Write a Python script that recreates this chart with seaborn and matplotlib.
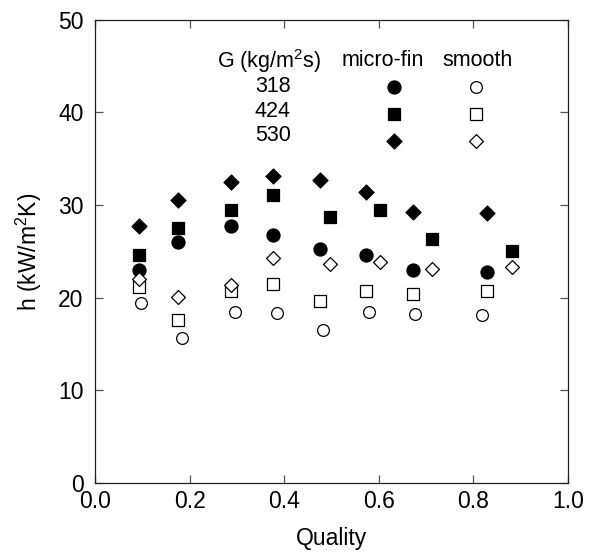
import matplotlib
matplotlib.use("Agg")
import matplotlib.pyplot as plt
import seaborn as sns
import pandas as pd

# ---- data ----
q_mf_318 = [0.092, 0.176, 0.288, 0.377, 0.476, 0.573, 0.672, 0.830]
h_mf_318 = [23.0, 26.0, 27.8, 26.8, 25.3, 24.6, 23.0, 22.8]
q_mf_424 = [0.092, 0.176, 0.288, 0.377, 0.496, 0.603, 0.713, 0.881]
h_mf_424 = [24.6, 27.5, 29.5, 31.1, 28.7, 29.5, 26.3, 25.1]
q_mf_530 = [0.092, 0.176, 0.288, 0.377, 0.476, 0.573, 0.672, 0.830]
h_mf_530 = [27.7, 30.5, 32.5, 33.1, 32.7, 31.4, 29.3, 29.2]

q_sm_318 = [0.097, 0.183, 0.295, 0.384, 0.483, 0.580, 0.677, 0.819]
h_sm_318 = [19.4, 15.7, 18.5, 18.4, 16.5, 18.5, 18.2, 18.1]
q_sm_424 = [0.092, 0.176, 0.288, 0.377, 0.476, 0.573, 0.672, 0.830]
h_sm_424 = [21.2, 17.6, 20.7, 21.5, 19.6, 20.7, 20.4, 20.7]
q_sm_530 = [0.092, 0.176, 0.288, 0.377, 0.496, 0.603, 0.713, 0.881]
h_sm_530 = [22.0, 20.1, 21.4, 24.3, 23.6, 23.9, 23.1, 23.3]

mass_flux = ["318", "424", "530"]
tubes = ["micro-fin", "smooth"]
x_ticks = [0.0, 0.2, 0.4, 0.6, 0.8, 1.0]
y_ticks = [0, 10, 20, 30, 40, 50]

series = [
    ("micro-fin", "318", q_mf_318, h_mf_318),
    ("micro-fin", "424", q_mf_424, h_mf_424),
    ("micro-fin", "530", q_mf_530, h_mf_530),
    ("smooth", "318", q_sm_318, h_sm_318),
    ("smooth", "424", q_sm_424, h_sm_424),
    ("smooth", "530", q_sm_530, h_sm_530),
]
rows = []
for tube, g, qs, hs in series:
    for q, h in zip(qs, hs):
        rows.append({"tube": tube, "G": g, "Quality": q, "h": h})
df = pd.DataFrame(rows)

# ---- style ----
sns.set_theme(style="ticks")
plt.rcParams["font.family"] = ["Liberation Sans", "DejaVu Sans"]
plt.rcParams["mathtext.fontset"] = "custom"
plt.rcParams["mathtext.rm"] = "Liberation Sans"
plt.rcParams["mathtext.it"] = "Liberation Sans"
plt.rcParams["text.color"] = "black"
plt.rcParams["axes.labelcolor"] = "black"
plt.rcParams["xtick.color"] = "black"
plt.rcParams["ytick.color"] = "black"

FS_LEG = 15.5
FS_AX = 16.5
markers = {"318": "o", "424": "s", "530": "D"}
size_filled = {"318": 88, "424": 80, "530": 58}
size_open = {"318": 72, "424": 70, "530": 50}

fig = plt.figure(figsize=(5.92, 5.52), dpi=100)
ax = fig.add_axes([0.161, 0.125, 0.798, 0.839])

for tube in tubes:
    for g in mass_flux:
        sub = df[(df.tube == tube) & (df.G == g)]
        filled = tube == "micro-fin"
        sns.scatterplot(data=sub, x="Quality", y="h", marker=markers[g],
                        s=(size_filled if filled else size_open)[g],
                        color="black" if filled else "white",
                        edgecolor="black", linewidth=0.9, ax=ax,
                        legend=False, zorder=3)

ax.set_xlim(0, 1.0)
ax.set_ylim(0, 50)
ax.set_xticks(x_ticks)
ax.set_xticklabels([f"{t:.1f}" for t in x_ticks])
ax.set_yticks(y_ticks)
ax.tick_params(direction="in", length=5.7, width=0.9, labelsize=FS_AX,
               top=True, right=True, color="#555555")
ax.tick_params(axis="y", pad=8.5)
ax.tick_params(axis="x", pad=5)
for sp in ax.spines.values():
    sp.set_visible(True)
    sp.set_color("#222222")
    sp.set_linewidth(0.9)
ax.set_xlabel("Quality", fontsize=FS_AX, labelpad=10)
ax.set_ylabel("h (kW/m$^2$K)", fontsize=FS_AX, labelpad=10)

# ---- legend table ----
ax.text(0.367, 0.912, "G (kg/m$^2$s)", transform=ax.transAxes, ha="center",
        va="center", fontsize=FS_LEG)
ax.text(0.608, 0.912, "micro-fin", transform=ax.transAxes, ha="center",
        va="center", fontsize=FS_LEG)
ax.text(0.809, 0.912, "smooth", transform=ax.transAxes, ha="center",
        va="center", fontsize=FS_LEG)
row_y = [0.856, 0.803, 0.750]
mark_y = [0.854, 0.796, 0.738]
for g, yy, my in zip(mass_flux, row_y, mark_y):
    ax.text(0.376, yy, g, transform=ax.transAxes, ha="center", va="center",
            fontsize=FS_LEG)
    ax.scatter([0.632], [my], marker=markers[g], s=size_filled[g],
               color="black", edgecolor="black", linewidth=0.9,
               transform=ax.transAxes, zorder=3)
    ax.scatter([0.805], [my], marker=markers[g], s=size_open[g],
               color="white", edgecolor="black", linewidth=0.9,
               transform=ax.transAxes, zorder=3)

fig.savefig("out.png", dpi=100)
